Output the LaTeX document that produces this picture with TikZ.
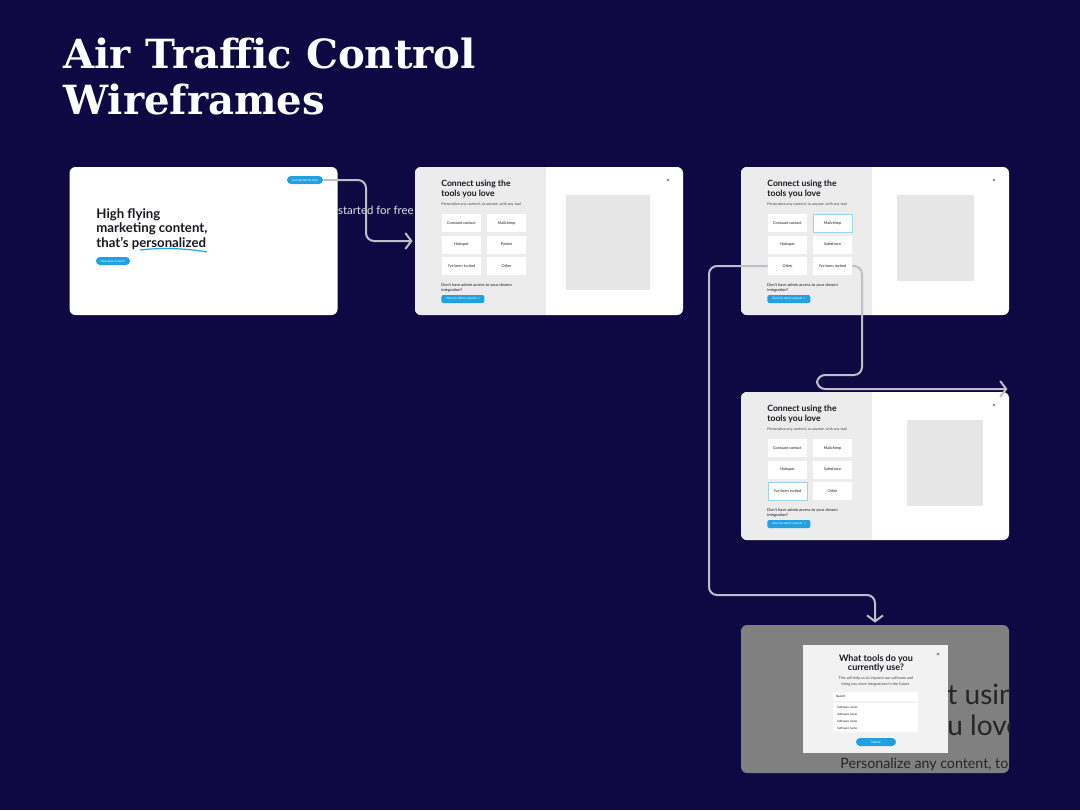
\documentclass[tikz,border=0pt]{standalone}
\usepackage{fontspec}
\setmainfont{Lato}
\newfontfamily\titlefont{DejaVu Serif}
\newfontfamily\symfont{DejaVu Sans}
\usetikzlibrary{positioning,arrows.meta}
\definecolor{navy}{RGB}{14,9,66}
\definecolor{ink}{RGB}{24,24,32}
\definecolor{panel}{RGB}{236,236,236}
\definecolor{holder}{RGB}{230,230,230}
\definecolor{sky}{RGB}{33,160,226}
\definecolor{wire}{RGB}{190,190,200}
\definecolor{dim}{RGB}{128,128,128}

\begin{document}
\begin{tikzpicture}[x=0.5pt, y=-0.5pt,
  frame/.style={fill=white, rounded corners=3pt, minimum width=134pt, minimum height=74pt, inner sep=0pt},
  card/.style={fill=white, minimum width=19.5pt, minimum height=9pt, inner sep=0pt, text=ink, font=\fontsize{1.9}{2.2}\selectfont},
  picked/.style={card, draw=sky!45, line width=0.4pt},
  pill/.style={fill=sky, rounded corners=2pt, inner sep=0pt, text=white, font=\fontsize{1.5}{1.8}\selectfont},
  field/.style={fill=white, inner xsep=1.5pt, inner ysep=0pt, text width=39.5pt, align=left, text=ink, font=\fontsize{1.6}{2}\selectfont},
  conn/.style={draw=wire, line width=1pt, rounded corners=4pt, -{Straight Barb[length=3pt,width=8pt]}, shorten >=1pt}]
  \fill[navy] (0,0) rectangle (1080,810);
  \useasboundingbox (0,0) rectangle (1080,810);

  \node[anchor=north west, inner sep=0pt, align=left, text=white, font=\titlefont\bfseries\fontsize{20.1}{23}\selectfont] (title) at (63,38) {Air Traffic Control\\Wireframes};

  % landing page
  \node[anchor=east, inner sep=0pt, text=white!88!navy, font=\fontsize{5.7}{6}\selectfont] (free) at (414,210) {started for free};
  \node[frame] (f1) at (203.5,241) {};
  \node[pill, minimum width=18pt, minimum height=4pt] (gs) at (305,180) {Get started for free};
  \node[anchor=north west, inner sep=0pt, align=left, text=ink, font=\bfseries\fontsize{6.6}{7.3}\selectfont] (hero) at (96,208) {High flying\\marketing content,\\that's personalized};
  \draw[sky, line width=0.6pt] (140,250) .. controls (165,247) and (190,249) .. (207,252);
  \node[pill, minimum width=17pt, minimum height=4pt] (how) at (113,261) {How does it work?};

  % connect screens
  \foreach \f/\x/\y/\px/\pw/\ph in {f2/415/167/151/84/95, f3/741/167/156/77/86, f4/741/392/166/76/86} {
    \node[frame] (\f) at (\x+134,\y+74) {};
    \begin{scope}
      \clip[rounded corners=3pt] (\x,\y) rectangle ++(268,148);
      \fill[panel] (\x,\y) rectangle ++(131,148);
    \end{scope}
    \node[anchor=north west, inner sep=0pt, align=left, text=ink, font=\bfseries\fontsize{4.3}{5}\selectfont] (\f-title) at (\x+26,\y+13) {Connect using the\\tools you love};
    \node[anchor=west, inner sep=0pt, text=ink!80, font=\fontsize{1.85}{2.2}\selectfont] (\f-sub) at (\x+26,\y+37) {Personalize any content, to anyone, with any tool};
    \node[anchor=north west, inner sep=0pt, align=left, text=ink, font=\fontsize{2}{2.6}\selectfont] (\f-ask) at (\x+26,\y+116) {Don't have admin access to your chosen\\integration?};
    \node[pill, rounded corners=1pt, minimum width=21.5pt, minimum height=4pt, anchor=west] (\f-send) at (\x+26,\y+132) {Send an admin request {\symfont →}};
    \node[fill=holder, anchor=north west, minimum width=\pw*0.5pt, minimum height=\ph*0.5pt, inner sep=0pt] (\f-img) at (\x+\px,\y+28) {};
    \node[inner sep=0pt, text=ink, font=\fontsize{3}{3}\selectfont] (\f-close) at (\x+253,\y+14) {×};
  }
  \foreach \i/\c/\r/\s/\t in {1/0/0/card/Constant contact, 2/1/0/card/Mailchimp, 3/0/1/card/Hubspot, 4/1/1/card/Pardot, 5/0/2/card/I've been invited, 6/1/2/card/Other}
    \node[\s] (f2-\i) at (461.5+45*\c,223+21.5*\r) {\t};
  \foreach \i/\c/\r/\s/\t in {1/0/0/card/Constant contact, 2/1/0/picked/Mailchimp, 3/0/1/card/Hubspot, 4/1/1/card/Salesforce, 5/0/2/card/Other, 6/1/2/card/I've been invited}
    \node[\s] (f3-\i) at (787.5+45*\c,223+21.5*\r) {\t};
  \foreach \i/\c/\r/\s/\t in {1/0/0/card/Constant contact, 2/1/0/card/Mailchimp, 3/0/1/card/Hubspot, 4/1/1/card/Salesforce, 5/0/2/picked/I've been invited, 6/1/2/card/Other}
    \node[\s] (f4-\i) at (787.5+45*\c,448+21.5*\r) {\t};

  % survey modal
  \node[frame, fill=dim] (f5) at (875,699) {};
  \begin{scope}
    \clip[rounded corners=3pt] (741,625) rectangle (1009,773);
    \node[anchor=base west, inner sep=0pt, text=black!85, font=\fontsize{14}{14}\selectfont] (bg1) at (947,704) {t using};
    \node[anchor=base west, inner sep=0pt, text=black!85, font=\fontsize{14}{14}\selectfont] (bg2) at (947,735) {u love};
    \node[anchor=base west, inner sep=0pt, text=black!85, font=\fontsize{7.1}{7.5}\selectfont] (bg3) at (840,768) {Personalize any content, to anyone};
  \end{scope}
  \node[fill=white!95!black, minimum width=72.5pt, minimum height=54pt, inner sep=0pt] (modal) at (875.5,699) {};
  \node[inner sep=0pt, align=center, text=ink, font=\bfseries\fontsize{4.5}{4.5}\selectfont] (question) at (876,663.5) {What tools do you\\currently use?};
  \node[inner sep=0pt, text=ink, font=\fontsize{3}{3}\selectfont] (mclose) at (938,655) {×};
  \node[inner sep=0pt, align=center, text=ink!80, font=\fontsize{1.9}{3}\selectfont] (why) at (876,681) {This will help us to improve our software and\\bring you more integrations in the future.};
  \node[field, minimum height=4.5pt] (search) at (875.5,696.5) {Search};
  \node[field, minimum height=14.5pt] (list) at (875.5,717.5) {};
  \foreach \k in {0,...,3}
    \node[anchor=west, inner sep=0pt, text=ink, font=\fontsize{1.5}{2}\selectfont] (item\k) at (837,707+7*\k) {Software name};
  \node[pill, minimum width=20pt, minimum height=4pt] (submit) at (876,742) {Submit};

  % flow
  \draw[conn] (gs.east) -- (366,180) |- (f2.west);
  \draw[conn] (f3-5.west) -| (709,595) -| (f5.north);
  \draw[conn] (f3-6.east) -| (862,375) -| (817,389) -- (f4.north east |- 817,389);
\end{tikzpicture}
\end{document}
